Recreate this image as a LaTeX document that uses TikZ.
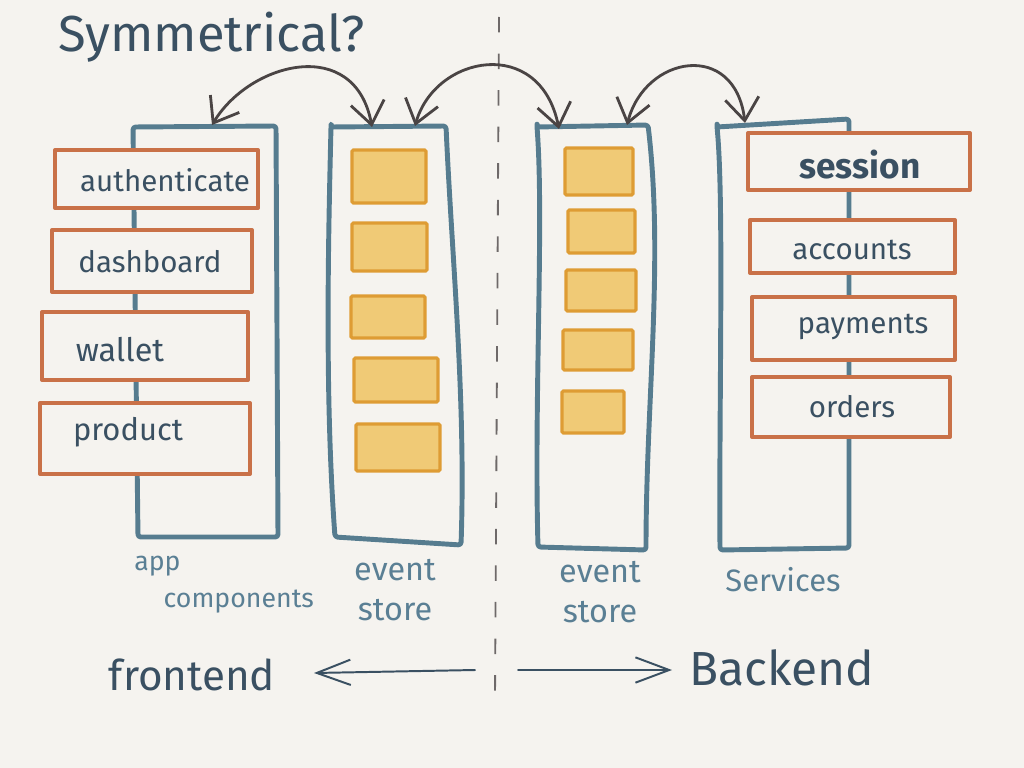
\documentclass[tikz,border=0pt]{standalone}
\usepackage{fontspec}
\setmainfont{Fira Sans}
\usetikzlibrary{arrows.meta,fit}
\definecolor{bg}{RGB}{245,243,239}
\definecolor{frameblue}{RGB}{86,124,143}
\definecolor{boxorange}{RGB}{201,113,72}
\definecolor{evfill}{RGB}{240,202,118}
\definecolor{evline}{RGB}{222,156,52}
\definecolor{ink}{RGB}{58,80,98}
\definecolor{labelblue}{RGB}{90,127,148}
\definecolor{arrowgray}{RGB}{74,68,68}
\begin{document}
\begin{tikzpicture}[x=0.025cm,y=-0.025cm,
  frame/.style={draw=frameblue,line width=3.5pt,line join=round,rounded corners=2pt},
  obox/.style={draw=boxorange,fill=bg,line width=2.8pt,line join=round,inner sep=0pt},
  ev/.style={draw=evline,fill=evfill,line width=2.2pt,inner sep=0pt,rounded corners=1pt},
  boxtext/.style={text=ink,font=\fontsize{21}{24}\selectfont,inner sep=0pt},
  lbl/.style={text=labelblue,font=\fontsize{23}{28}\selectfont,inner sep=0pt,align=center},
  arc/.style={draw=arrowgray,line width=2pt,line cap=round,
    {Straight Barb[length=16pt,width=24pt]}-{Straight Barb[length=16pt,width=24pt]}},
  bigarrow/.style={draw=ink,line width=1.4pt,line cap=round,
    -{Straight Barb[length=24pt,width=18pt]}},
]
% background / bounding box
\fill[bg] (0,0) rectangle (1024,768);
\useasboundingbox (0,0) rectangle (1024,768);

% column frames
\draw[frame] (133,127) -- (276,126) -- (278,537) -- (138,537) -- cycle;
\draw[frame] (331,127) -- (446,126)
   .. controls (452,260) and (466,400) .. (461,545) -- (335,537)
   .. controls (325,400) and (328,250) .. cycle;
\draw[frame] (537,127) -- (648,125)
   .. controls (664,260) and (646,400) .. (646,550) -- (538,547)
   .. controls (534,400) and (544,220) .. cycle;
\draw[frame] (717,127) -- (849,119) -- (849,548) -- (720,550)
   .. controls (719,400) and (724,200) .. cycle;

% arrow anchor points on the frame tops
\coordinate (c1a) at (212,125);
\coordinate (c2a) at (372,127);
\coordinate (c2b) at (415,126);
\coordinate (c3a) at (559,129);
\coordinate (c3b) at (627,125);
\coordinate (c4a) at (745,123);

% divider
\draw[arrowgray!80,line width=1.3pt,dash pattern=on 11pt off 15pt] (499,17) -- (495,700);

% orange component boxes
\node[obox,fit={(55,150) (258,208)}] (ob1) {};
\node[obox,fit={(52,230) (252,292)}] (ob2) {};
\node[obox,fit={(42,312) (248,380)}] (ob3) {};
\node[obox,fit={(40,403) (250,474)}] (ob4) {};
\node[obox,fit={(748,133) (970,190)}] (ob5) {};
\node[obox,fit={(750,220) (955,273)}] (ob6) {};
\node[obox,fit={(752,297) (955,360)}] (ob7) {};
\node[obox,fit={(752,377) (950,437)}] (ob8) {};

\node[boxtext] (t1) at (165,180) {authenticate};
\node[boxtext] (t2) at (150,262) {dashboard};
\node[boxtext,font=\fontsize{23}{26}\selectfont] (t3) at (120,350) {wallet};
\node[boxtext,font=\fontsize{22}{26}\selectfont] (t4) at (128,432) {product};
\node[boxtext,font=\fontsize{25}{28}\selectfont\bfseries] (t5) at (860,165) {session};
\node[boxtext] (t6) at (852,250) {accounts};
\node[boxtext] (t7) at (863,327) {payments};
\node[boxtext] (t8) at (852,407) {orders};

% event boxes, left store
\node[ev,fit={(352,150) (426,203)}] (e1) {};
\node[ev,fit={(352,223) (427,271)}] (e2) {};
\node[ev,fit={(351,296) (425,338)}] (e3) {};
\node[ev,fit={(354,358) (438,402)}] (e4) {};
\node[ev,fit={(356,424) (440,471)}] (e5) {};
% event boxes, right store
\node[ev,fit={(565,148) (633,195)}] (f1) {};
\node[ev,fit={(568,210) (635,253)}] (f2) {};
\node[ev,fit={(566,270) (636,311)}] (f3) {};
\node[ev,fit={(563,330) (633,370)}] (f4) {};
\node[ev,fit={(562,391) (624,433)}] (f5) {};

% title
\node[text=ink,font=\fontsize{36}{40}\selectfont,inner sep=0pt,anchor=base west] (title) at (58,52) {Symmetrical?};

% column labels
\node[lbl,align=left,anchor=north west,font=\fontsize{19}{26}\selectfont] (lapp) at (134,556) {app\\\hspace{1.1em}components};
\node[lbl] (lev1) at (395,590) {event\\store};
\node[lbl] (lev2) at (600,592) {event\\store};
\node[lbl,font=\fontsize{22}{28}\selectfont] (lsrv) at (783,580) {Services};

% bottom
\node[text=ink,font=\fontsize{30}{32}\selectfont,inner sep=0pt] (front) at (192,675) {frontend};
\node[text=ink,font=\fontsize{34}{36}\selectfont,inner sep=0pt] (back) at (782,668) {Backend};
\coordinate (la1) at (475,670);
\coordinate (la2) at (314,673);
\coordinate (ra1) at (518,670);
\coordinate (ra2) at (672,670);
\draw[bigarrow] (la1) -- (la2);
\draw[bigarrow] (ra1) -- (ra2);

% curved double arrows between the columns
\draw[arc] (c1a) .. controls (250,62) and (355,35) .. (c2a);
\draw[arc] (c2b) .. controls (435,55) and (540,35) .. (c3a);
\draw[arc] (c3b) .. controls (645,55) and (735,40) .. (c4a);
\end{tikzpicture}
\end{document}
